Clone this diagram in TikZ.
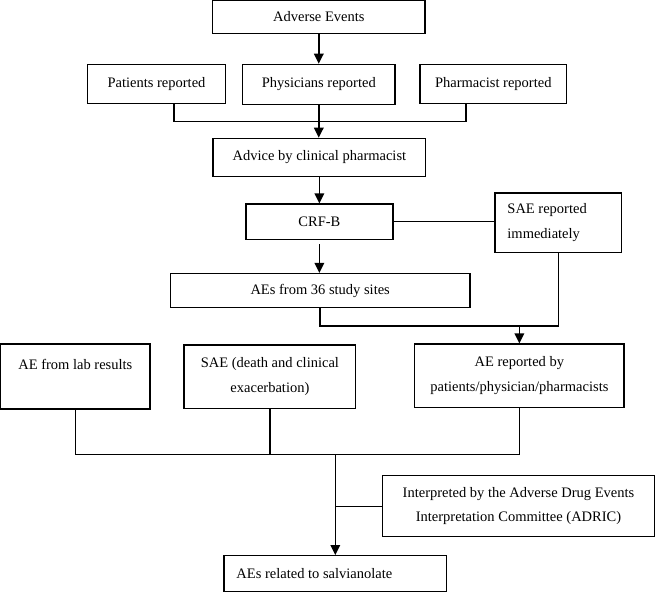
\documentclass[tikz,border=0pt]{standalone}
\usepackage{fontspec}
\setmainfont{Liberation Serif}
\usetikzlibrary{arrows.meta}
\begin{document}
\begin{tikzpicture}[x=1pt,y=-1pt,
  box/.style={draw, line width=1.2pt, inner sep=0pt, align=center, font=\fontsize{14.5}{25}\selectfont},
  lbox/.style={box, align=flush left, inner xsep=12.5pt},
  arr/.style={line width=1.6pt, -{Triangle[length=10pt,width=9.5pt]}},
  link/.style={line width=1.2pt},
  bus/.style={line width=1.6pt}]
\useasboundingbox (0,0) rectangle (656,593);
% boxes
\node[box, minimum width=212.5pt, minimum height=32.5pt] (ae) at (318.8,16.9) {Adverse Events};
\node[box, minimum width=138.4pt, minimum height=39pt] (pat) at (156.5,83.8) {Patients reported};
\node[box, minimum width=152.3pt, minimum height=40pt] (phy) at (318.8,84.3) {Physicians reported};
\node[box, minimum width=146.7pt, minimum height=39pt] (pha) at (493.3,83.8) {Pharmacist reported};
\node[box, minimum width=212.7pt, minimum height=38.4pt] (adv) at (319.4,157.5) {Advice by clinical pharmacist};
\node[box, minimum width=147pt, minimum height=35.3pt] (crf) at (319.4,221.7) {CRF-B};
\node[lbox, text width=101.7pt, minimum height=59.3pt] (sae1) at (558.3,222.7) {SAE reported\\immediately};
\node[box, minimum width=299.7pt, minimum height=34.2pt] (sites) at (320.2,290.6) {AEs from 36 study sites};
\node[box, minimum width=149.3pt, minimum height=65pt] (lab) at (75.3,376.6) {AE from lab results\\\mbox{}};
\node[box, minimum width=171.7pt, minimum height=63.7pt] (sae2) at (269.9,376.9) {SAE (death and clinical\\exacerbation)};
\node[box, minimum width=209.3pt, minimum height=63.3pt] (aerep) at (519.4,375.7) {AE reported by\\patients/physician/pharmacists};
\node[box, minimum width=272.6pt, minimum height=61pt, font=\fontsize{14.5}{23.5}\selectfont] (interp) at (518.5,506.2) {Interpreted by the Adverse Drug Events\\Interpretation Committee (ADRIC)};
\node[lbox, text width=197.7pt, minimum height=36pt] (rel) at (335.3,573.7) {AEs related to salvianolate};
% junction points
\coordinate (m1) at (318.8,121.3);
\coordinate (m2) at (519.4,326);
\coordinate (m3) at (335.3,454.3);
% connectors
\draw[arr] (ae.south) -- (ae.south |- phy.north);
\draw[link] ([xshift=17.5pt]pat.south) |- (m1) -| ([xshift=-27.3pt]pha.south);
\draw[arr] (phy.south) -- (phy.south |- adv.north);
\draw[arr] (adv.south) -- (adv.south |- crf.north);
\draw[link] (crf.east) -- (crf.east -| sae1.west);
\draw[arr, shorten <=4.5pt] (crf.south) -- (crf.south |- sites.north);
\draw[bus] (sites.south) |- (m2) -| (sae1.south);
\draw[arr] (m2) -- (aerep.north);
\draw[bus] (lab.south) |- (m3) -| (aerep.south);
\draw[bus] (sae2.south) -- (sae2.south |- m3);
\draw[arr] (m3) -- (rel.north);
\draw[link] (interp.west) -- (interp.west -| m3);
\end{tikzpicture}
\end{document}
